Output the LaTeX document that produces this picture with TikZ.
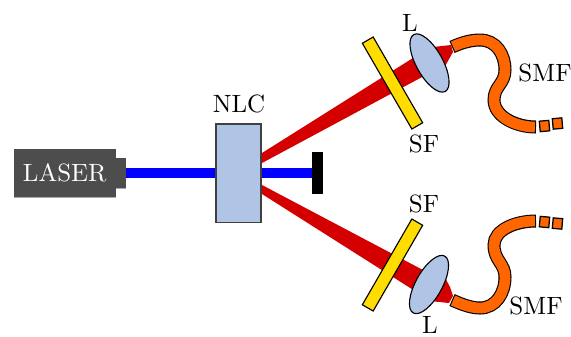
\documentclass[tikz,border=0pt]{standalone}
\usetikzlibrary{shapes.geometric}
\definecolor{lensblue}{HTML}{B0C4E6}
\definecolor{redbeam}{HTML}{D40000}
\definecolor{laserbody}{HTML}{4D4D4D}
\definecolor{laseredge}{HTML}{AAAAAA}
\definecolor{filteryellow}{HTML}{FFDD00}
\definecolor{fiberorange}{HTML}{FF6600}
\tikzset{
  lbl/.style={inner sep=0pt,outer sep=0pt},
  lensnode/.style={ellipse,draw=black,fill=lensblue,line width=0.45pt,minimum width=26pt,minimum height=10.6pt,inner sep=0pt,outer sep=0pt},
  filternode/.style={rectangle,draw=black,fill=filteryellow,line width=0.45pt,minimum width=39.6pt,minimum height=5pt,inner sep=0pt,outer sep=0pt},
  laserpart/.style={rectangle,fill=laserbody,inner sep=0pt,outer sep=0pt},
  fiberout/.style={draw=black,line width=5.2pt},
  fiberin/.style={draw=fiberorange,line width=4.3pt,shorten <=0.45pt,shorten >=0.45pt},
  fiberbit/.style={rectangle,draw=black,fill=fiberorange,line width=0.5pt,minimum width=3.8pt,minimum height=4.2pt,inner sep=0pt,outer sep=0pt},
  redfan/.style={fill=redbeam,draw=none},
  bluebeam/.style={draw=blue,line width=4pt}
}
\begin{document}
\begin{tikzpicture}[x=0.4pt,y=-0.4pt]
\useasboundingbox (0,0) rectangle (571,336);
% laser
\draw[laseredge,fill=laserbody,line width=0.4pt] (14,149) -- (115.5,149) -- (115.5,158) -- (125.5,158) -- (125.5,188) -- (115.5,188) -- (115.5,197) -- (14,197) -- cycle;
\node[laserpart,minimum width=4pt,minimum height=12pt] (nub) at (120.5,173) {};
\node[laserpart,minimum width=40.6pt,minimum height=19.2pt,text=white] (laser) at (64.75,173) {LASER};
% dump and crystal
\node[rectangle,fill=black,minimum width=4.4pt,minimum height=16.8pt,inner sep=0pt,outer sep=0pt] (dump) at (317.5,173) {};
\draw[bluebeam] (nub.east) -- (dump.west);
% red beams
\fill[redfan] (262,153) -- (413,58) -- (424,76) -- (262,163) -- cycle;
\fill[redfan] (262,185) -- (423,270) -- (415,291) -- (262,194) -- cycle;
\fill[redfan] (425,52) -- (433,47) -- (451,45) -- (453,52) -- (440,75) -- (425,80) -- cycle;
\fill[redfan] (430,280) -- (442,272) -- (450,287) -- (453,296) -- (449,303) -- (430,301) -- cycle;
\node[rectangle,draw=black!75,fill=lensblue,line width=0.45pt,minimum width=18pt,minimum height=39.4pt,inner sep=0pt,outer sep=0pt] (nlc) at (238.5,173.25) {};
\node[lbl] (nlclabel) at (239,104) {NLC};
% filters
\node[filternode,rotate=-60] (sfa) at (392.5,83) {};
\node[filternode,rotate=60] (sfb) at (392.5,265) {};
\node[lbl,anchor=center] (sfalabel) at (424,144) {SF};
\node[lbl,anchor=center] (sfblabel) at (424,204) {SF};
% lenses
\node[lensnode,rotate=-61] (la) at (429.5,63) {};
\node[lensnode,rotate=61] (lb) at (429,284.5) {};
\node[lbl] (lalabel) at (410,23) {L};
\node[lbl] (lblabel) at (430,325) {L};
% fibers
\foreach \st in {fiberout,fiberin}{
  \path[\st] (452,47) .. controls (463,42) and (472,40) .. (480,40)
    .. controls (496,40) and (505,54) .. (505,70)
    .. controls (505,84) and (494,86) .. (494,100)
    .. controls (494,116) and (515,127) .. (536,127);
  \path[\st] (452,300) .. controls (463,305) and (472,308) .. (480,308)
    .. controls (496,308) and (505,293) .. (505,277)
    .. controls (505,263) and (494,261) .. (494,245)
    .. controls (494,230) and (515,221) .. (536,221);
}
\node[fiberbit,rotate=5] (fa1) at (544.5,126) {};
\node[fiberbit,rotate=5] (fa2) at (557.5,123.5) {};
\node[fiberbit,rotate=-5] (fb1) at (544.5,222) {};
\node[fiberbit,rotate=-5] (fb2) at (557.5,223.5) {};
\node[lbl] (smfa) at (545,73) {SMF};
\node[lbl] (smfb) at (536,306) {SMF};
\end{tikzpicture}
\end{document}
